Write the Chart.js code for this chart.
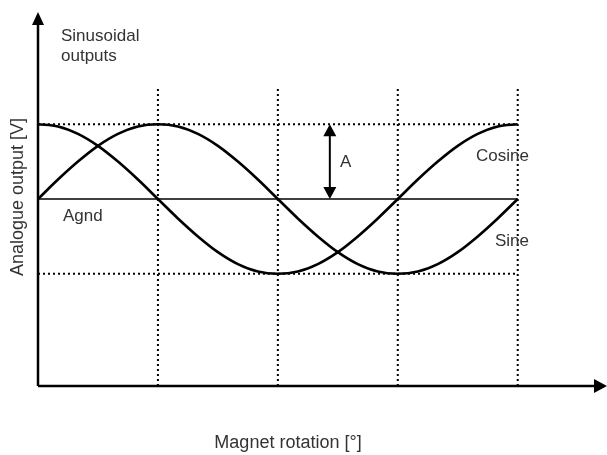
<!DOCTYPE html>
<html>
<head>
<meta charset="utf-8">
<script src="https://cdn.jsdelivr.net/npm/chart.js@4"></script>
<style>
  body { margin: 0; background: #fff; }
  #wrap { width: 607px; height: 455px; }
</style>
</head>
<body>
<div id="wrap"><canvas id="myChart" width="607" height="455"></canvas></div>
<script>
// rotation angles (deg) and the two outputs in units of A
const angles = [0, 15, 30, 45, 60, 75, 90, 105, 120, 135, 150, 165, 180, 195, 210, 225, 240, 255, 270, 285, 300, 315, 330, 345, 360]
const sineValues = [0, 0.26, 0.5, 0.71, 0.87, 0.97, 1, 0.97, 0.87, 0.71, 0.5, 0.26, 0, -0.26, -0.5, -0.71, -0.87, -0.97, -1, -0.97, -0.87, -0.71, -0.5, -0.26, 0]
const cosineValues = [1, 0.97, 0.87, 0.71, 0.5, 0.26, 0, -0.26, -0.5, -0.71, -0.87, -0.97, -1, -0.97, -0.87, -0.71, -0.5, -0.26, 0, 0.26, 0.5, 0.71, 0.87, 0.97, 1]

// dotted guide lines
const gridAngles = [90, 180, 270, 360]
const gridLevels = [1, -1]
const agndLevel = 0
const amplitudeAt = 219

const xMax = 427
const yLimit = 2.5
const gridTop = 1.5

const textColor = '#333'
const font = '17px "Liberation Sans", Arial, sans-serif'
const titleFont = '18px "Liberation Sans", Arial, sans-serif'

const toPoints = (xs, ys) => xs.map((x, i) => ({ x: x, y: ys[i] }))

// vertical dotted lines, separated by gaps
let vertical = []
gridAngles.forEach(a => {
    vertical.push({ x: a, y: -yLimit }, { x: a, y: gridTop }, { x: a, y: null })
})
let horizontal = []
gridLevels.forEach(l => {
    horizontal.push({ x: 0, y: l }, { x: 360, y: l }, { x: 360, y: null })
})

const drawHead = (ctx, x, y, dir, w, h) => {
    ctx.beginPath()
    ctx.moveTo(x, y)
    if (dir === 'up') { ctx.lineTo(x - w / 2, y + h); ctx.lineTo(x + w / 2, y + h) }
    if (dir === 'down') { ctx.lineTo(x - w / 2, y - h); ctx.lineTo(x + w / 2, y - h) }
    if (dir === 'right') { ctx.lineTo(x - h, y - w / 2); ctx.lineTo(x - h, y + w / 2) }
    ctx.closePath()
    ctx.fill()
}

const overlay = {
    id: 'overlay',
    afterDatasetsDraw(chart) {
        const ctx = chart.ctx
        const area = chart.chartArea
        const xs = chart.scales.x
        const ys = chart.scales.y
        ctx.save()
        ctx.strokeStyle = '#000'
        ctx.fillStyle = '#000'

        // axes with arrows
        ctx.lineWidth = 2.5
        ctx.beginPath()
        ctx.moveTo(area.left, area.bottom)
        ctx.lineTo(area.left, area.top + 10)
        ctx.moveTo(area.left, area.bottom)
        ctx.lineTo(area.right - 10, area.bottom)
        ctx.stroke()
        drawHead(ctx, area.left, area.top, 'up', 12, 13)
        drawHead(ctx, area.right, area.bottom, 'right', 14, 13)

        // amplitude arrow
        const ax = xs.getPixelForValue(amplitudeAt)
        const top = ys.getPixelForValue(1)
        const bot = ys.getPixelForValue(agndLevel)
        ctx.lineWidth = 2
        ctx.beginPath()
        ctx.moveTo(ax, top + 10)
        ctx.lineTo(ax, bot - 10)
        ctx.stroke()
        drawHead(ctx, ax, top, 'up', 13, 12)
        drawHead(ctx, ax, bot, 'down', 13, 12)

        // texts
        ctx.fillStyle = textColor
        ctx.font = font
        ctx.textBaseline = 'alphabetic'
        ctx.textAlign = 'left'
        ctx.fillText('Sinusoidal', 61, 41)
        ctx.fillText('outputs', 61, 61)
        ctx.fillText('A', 340, 167)
        ctx.fillText('Cosine', 476, 161)
        ctx.fillText('Sine', 495, 246)
        ctx.fillText('Agnd', 63, 221)
        ctx.font = titleFont
        ctx.textAlign = 'center'
        ctx.fillText('Magnet rotation [°]', 288, 448)
        ctx.translate(23, 197)
        ctx.rotate(-Math.PI / 2)
        ctx.fillText('Analogue output [V]', 0, 0)
        ctx.restore()
    }
}

const ctx = document.getElementById('myChart')
const chart = new Chart(ctx, {
    type: 'line',
    data: {
        datasets: [
            {
                label: 'grid-v',
                data: vertical,
                borderColor: '#000',
                borderWidth: 2,
                borderDash: [2, 3],
                pointRadius: 0,
                spanGaps: false
            },
            {
                label: 'grid-h',
                data: horizontal,
                borderColor: '#000',
                borderWidth: 2,
                borderDash: [2, 3],
                pointRadius: 0,
                spanGaps: false
            },
            {
                label: 'Agnd',
                data: [{ x: 0, y: agndLevel }, { x: 360, y: agndLevel }],
                borderColor: '#000',
                borderWidth: 1.5,
                pointRadius: 0
            },
            {
                label: 'Sine',
                data: toPoints(angles, sineValues),
                borderColor: '#000',
                borderWidth: 2.6,
                pointRadius: 0,
                cubicInterpolationMode: 'monotone'
            },
            {
                label: 'Cosine',
                data: toPoints(angles, cosineValues),
                borderColor: '#000',
                borderWidth: 2.6,
                pointRadius: 0,
                cubicInterpolationMode: 'monotone'
            }
        ]
    },
    options: {
        responsive: false,
        animation: false,
        layout: { padding: { left: 38, top: 12, right: 0, bottom: 69 } },
        plugins: { legend: { display: false }, tooltip: { enabled: false } },
        scales: {
            x: { type: 'linear', min: 0, max: xMax, display: false },
            y: { type: 'linear', min: -yLimit, max: yLimit, display: false }
        }
    },
    plugins: [overlay]
})
</script>
</body>
</html>
